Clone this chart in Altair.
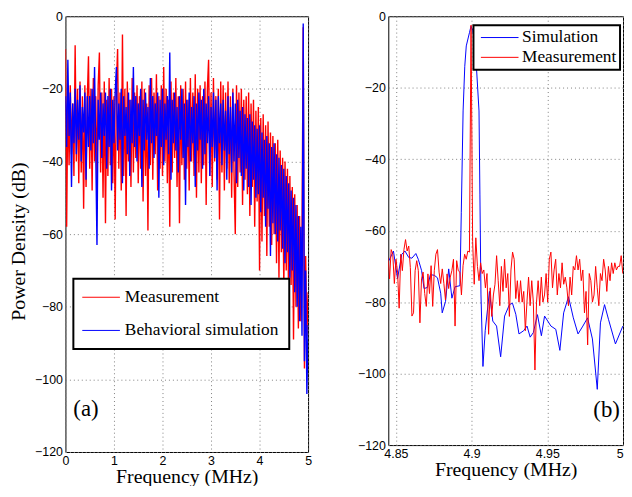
import altair as alt
import pandas as pd

# ---------------- Panel (a): full band, 0-5 MHz ----------------
A_MEAS = [
    -9, -58, -21, -41, -19, -38, -24, -44, -8, -40,
    -20, -46, -18, -43, -22, -53, -19, -47, -23, -11,
    -42, -20, -48, -17, -40, -22, -45, -19, -10, -43,
    -21, -50, -18, -57, -23, -44, -17, -41, -20, -46,
    -22, -56, -19, -9, -42, -21, -48, -5, -44, -20,
    -55, -18, -40, -23, -47, -17, -43, -21, -39, -19,
    -46, -22, -42, -18, -51, -20, -44, -24, -59, -19,
    -41, -17, -45, -21, -38, -16, -48, -22, -42, -19,
    -44, -14, -40, -20, -46, -23, -58, -18, -43, -21,
    -39, -17, -47, -22, -57, -19, -41, -20, -45, -18,
    -42, -23, -48, -17, -40, -21, -44, -16, -50, -20,
    -43, -19, -46, -22, -41, -18, -52, -20, -12, -44,
    -21, -47, -17, -40, -22, -45, -20, -56, -18, -43,
    -19, -48, -21, -42, -18, -46, -22, -50, -20, -44,
    -60, -19, -47, -21, -43, -20, -52, -23, -45, -22,
    -49, -21, -55, -24, -47, -23, -58, -26, -51, -25,
    -70, -28, -62, -27, -55, -30, -66, -29, -58, -32,
    -63, -33, -60, -35, -68, -34, -72, -37, -65, -39,
    -75, -40, -70, -42, -82, -44, -74, -47, -89, -49,
    -80, -52, -86, -55, -84, -60, -3, -97, -66, -88,
    -76,
]
A_SIM = [
    -22, -36, -12, -33, -21, -47, -24, -35, -20, -38,
    -23, -34, -19, -40, -25, -32, -21, -45, -22, -36,
    -22, -37, -20, -35, -14, -38, -63, -23, -34, -21,
    -39, -24, -33, -21, -42, -22, -36, -20, -48, -23,
    -35, -21, -14, -37, -24, -34, -20, -46, -22, -33,
    -25, -38, -21, -44, -23, -35, -14, -36, -22, -40,
    -24, -33, -20, -47, -23, -37, -21, -34, -25, -42,
    -17, -35, -22, -39, -24, -33, -21, -50, -23, -36,
    -20, -41, -24, -34, -22, -38, -10, -45, -23, -35,
    -21, -37, -25, -43, -22, -34, -20, -39, -24, -52,
    -23, -36, -21, -40, -25, -35, -22, -47, -24, -37,
    -21, -34, -23, -42, -20, -38, -24, -35, -22, -44,
    -25, -36, -21, -39, -23, -48, -22, -35, -24, -41,
    -23, -37, -26, -45, -22, -38, -25, -43, -21, -40,
    -24, -46, -23, -39, -26, -44, -25, -48, -27, -42,
    -28, -47, -27, -52, -29, -45, -30, -50, -31, -49,
    -30, -54, -32, -50, -34, -58, -33, -53, -35, -66,
    -36, -57, -35, -60, -38, -62, -39, -59, -41, -64,
    -42, -68, -44, -65, -46, -72, -48, -70, -50, -76,
    -52, -80, -55, -84, -58, -88, -2, -95, -70, -104,
    -85,
]
A_STEP = 0.025  # frequency bin spacing (MHz)
A_FREQ = [round(i * A_STEP, 4) for i in range(len(A_MEAS))]

# ---------------- Panel (b): zoom 4.845-5.0 MHz ----------------
B_MEAS = [
    -67.5, -73.5, -65.3, -66.6, -74.8, -68.0, -71.6, -81.7, -66.6, -71.2,
    -65.3, -62.5, -65.7, -64.3, -70.3, -83.9, -83.0, -71.2, -68.4, -71.2,
    -85.8, -73.5, -71.6, -77.6, -81.2, -72.1, -77.6, -69.8, -81.2, -71.2,
    -66.6, -65.3, -71.6, -74.8, -70.7, -74.8, -79.4, -72.1, -76.2, -73.0,
    -71.2, -68.0, -86.7, -68.4, -71.2, -71.6, -78.0, -69.8, -66.6, -68.0,
    -65.7, -66, -2.5, -63, -75, -62, -70, -74, -69, -72,
    -71, -76, -72, -89, -76, -84, -78, -75, -67, -74,
    -81, -70, -77, -68, -76, -72, -84, -71, -66, -68,
    -79, -74, -80, -74, -80, -77, -88, -80, -73, -81,
    -74, -80, -99, -80, -74, -81, -73, -80, -78, -72,
    -80, -68, -66, -76, -71, -68, -78, -72, -76, -69,
    -75, -73, -76, -81, -73, -78, -70, -71, -67, -71,
    -68, -74, -71, -83, -77, -92, -72, -74, -80, -78,
    -70, -76, -81, -72, -74, -68, -71, -77, -70, -74,
    -69, -72, -69, -71, -70, -70, -67, -72,
]
B_START = 4.84373
B_STEP = 0.0010549  # measurement bin spacing (MHz)
B_MEAS_FREQ = [round(B_START + B_STEP * k, 5) for k in range(1, len(B_MEAS) + 1)]

B_SIM_FREQ = [
    4.8454, 4.8484, 4.8511, 4.8539, 4.8560, 4.8585, 4.8606, 4.8632, 4.8648, 4.8670,
    4.8686, 4.8708, 4.8728, 4.8754, 4.8775, 4.8796, 4.8806, 4.8828, 4.8849, 4.8870,
    4.8891, 4.8923, 4.8932, 4.8944, 4.8955, 4.8965, 4.8986, 4.8996, 4.9008, 4.9018,
    4.9034, 4.9049, 4.9055, 4.9062, 4.9075, 4.9090, 4.9118, 4.9140, 4.9165, 4.9192,
    4.9218, 4.9250, 4.9270, 4.9292, 4.9313, 4.9344, 4.9366, 4.9387, 4.9408, 4.9435,
    4.9461, 4.9482, 4.9503, 4.9524, 4.9556, 4.9583, 4.9608, 4.9640, 4.9672, 4.9703,
    4.9735, 4.9766, 4.9798, 4.9830, 4.9851, 4.9878, 4.9904, 4.9950, 4.9999,
]
B_SIM = [
    -68.4, -65.7, -73.4, -66.6, -65.7, -67.5, -67.7, -66.4, -68.0, -71.2,
    -76.2, -75.9, -72.3, -72.5, -73.2, -77.5, -83.0, -79.8, -70.7, -78.9,
    -75.7, -75.4, -55, -26.5, -14, -8.3, -4.6, -2.8, -4, -6.5,
    -15.6, -26.5, -50, -78, -98, -88, -77, -85.3, -86.7, -95.3,
    -83.9, -80.7, -80.3, -83.4, -88.9, -88, -86.7, -89.8, -88.5, -83.5,
    -89.4, -83.9, -85.3, -86.7, -87.6, -93.5, -83, -78.5, -84.4, -88.9,
    -86.7, -84.4, -90.3, -104.4, -85.8, -80.7, -84.8, -91.7, -86.7,
]

A_SERIES = ["Measurement", "Behavioral simulation"]
B_SERIES = ["Simulation", "Measurement"]
A_XTICKS = [0, 1, 2, 3, 4, 5]
B_XTICKS = [4.85, 4.9, 4.95, 5]
Y_TICKS = [-120, -100, -80, -60, -40, -20, 0]

SERIF = "Liberation Serif"
SANS = "Liberation Sans"
RED = "#ff0000"
BLUE = "#0000ff"
GRID = dict(grid=True, gridColor="#808080", gridDash=[1, 3], gridWidth=1,
            ticks=False, domain=False, labelFont=SANS, labelFontSize=12.5,
            labelColor="black", format="~f")

df_a = pd.DataFrame({
    "f": A_FREQ + A_FREQ,
    "db": A_MEAS + A_SIM,
    "s": [A_SERIES[0]] * len(A_MEAS) + [A_SERIES[1]] * len(A_SIM),
})
df_b = pd.DataFrame({
    "f": B_MEAS_FREQ + B_SIM_FREQ,
    "db": B_MEAS + B_SIM,
    "s": ["Measurement"] * len(B_MEAS) + ["Simulation"] * len(B_SIM),
})


def x_axis(values, title_y, flush):
    return alt.Axis(values=values, title="Frequency (MHz)", labelFlush=flush,
                    labelPadding=3, titleFont=SERIF, titleFontSize=20,
                    titleFontWeight="normal", titleColor="black",
                    titleY=title_y, titleBaseline="alphabetic", **GRID)


def y_axis(title):
    if title:
        return alt.Axis(values=Y_TICKS, labelPadding=3, title=title,
                        titleFont=SERIF, titleFontSize=20, titleFontWeight="normal",
                        titleColor="black", titleX=-47, titleY=227,
                        titleBaseline="middle", **GRID)
    return alt.Axis(values=Y_TICKS, labelPadding=3, title=None, **GRID)


# ----- left panel -----
legend_a = alt.Legend(title=None, orient="none", legendX=8, legendY=265,
                      symbolType="M-2.375,0H2.375", symbolSize=256,
                      symbolStrokeWidth=1, padding=10, symbolOffset=9.25,
                      labelOffset=15.25, rowPadding=14.5, labelFont=SERIF,
                      labelFontSize=17.5, labelColor="black", labelLimit=400,
                      strokeColor="black", fillColor="white")
base_a = alt.Chart(df_a).encode(
    x=alt.X("f:Q", scale=alt.Scale(domain=[0, 5], nice=False, zero=False),
            axis=x_axis(A_XTICKS, 31, False)),
    y=alt.Y("db:Q", scale=alt.Scale(domain=[-120, 0], nice=False),
            axis=y_axis("Power Density (dB)")),
    color=alt.Color("s:N", scale=alt.Scale(domain=A_SERIES, range=[RED, BLUE]),
                    legend=legend_a),
)
meas_a = base_a.transform_filter(alt.datum.s == A_SERIES[0]).mark_line(strokeWidth=1.4, clip=True)
sim_a = base_a.transform_filter(alt.datum.s == A_SERIES[1]).mark_line(strokeWidth=1.4, clip=True)
tag_a = alt.Chart(pd.DataFrame({"t": ["(a)"]})).mark_text(
    font=SERIF, fontSize=23, align="left", baseline="alphabetic", color="black"
).encode(text="t:N", x=alt.value(8), y=alt.value(404))
left = alt.layer(meas_a, sim_a, tag_a).properties(width=245, height=440)

# ----- right panel -----
legend_b = alt.Legend(title=None, orient="none", legendX=86, legendY=9,
                      symbolType="M-2.235,0H2.235", symbolSize=289,
                      symbolStrokeWidth=1, padding=3.5, symbolOffset=14,
                      labelOffset=13.5, rowPadding=2, labelFont=SERIF,
                      labelFontSize=17.5, labelColor="black", labelLimit=400,
                      strokeColor="black", fillColor="white")
base_b = alt.Chart(df_b).encode(
    x=alt.X("f:Q", scale=alt.Scale(domain=[4.845, 5.0], nice=False, zero=False),
            axis=x_axis(B_XTICKS, 31, True)),
    y=alt.Y("db:Q", scale=alt.Scale(domain=[-120, 0], nice=False), axis=y_axis(None)),
    color=alt.Color("s:N", scale=alt.Scale(domain=B_SERIES, range=[BLUE, RED]),
                    legend=legend_b),
)
sim_b = base_b.transform_filter(alt.datum.s == "Simulation").mark_line(strokeWidth=1, clip=True)
meas_b = base_b.transform_filter(alt.datum.s == "Measurement").mark_line(strokeWidth=1, clip=True)
tag_b = alt.Chart(pd.DataFrame({"t": ["(b)"]})).mark_text(
    font=SERIF, fontSize=23, align="left", baseline="alphabetic", color="black", clip=True
).encode(text="t:N", x=alt.value(207), y=alt.value(405))
right = alt.layer(sim_b, meas_b, tag_b).properties(width=237, height=433)

chart = (
    alt.hconcat(left, right, spacing=45)
    .resolve_scale(color="independent")
    .resolve_legend(color="independent")
    .properties(padding={"left": 0, "top": -1, "right": 0, "bottom": -4}, background="white")
    .configure_view(stroke="black", strokeWidth=1)
    .configure_legend(strokeWidth=2)
)

chart.save("out.html", embed_options={"renderer": "svg", "actions": False})
